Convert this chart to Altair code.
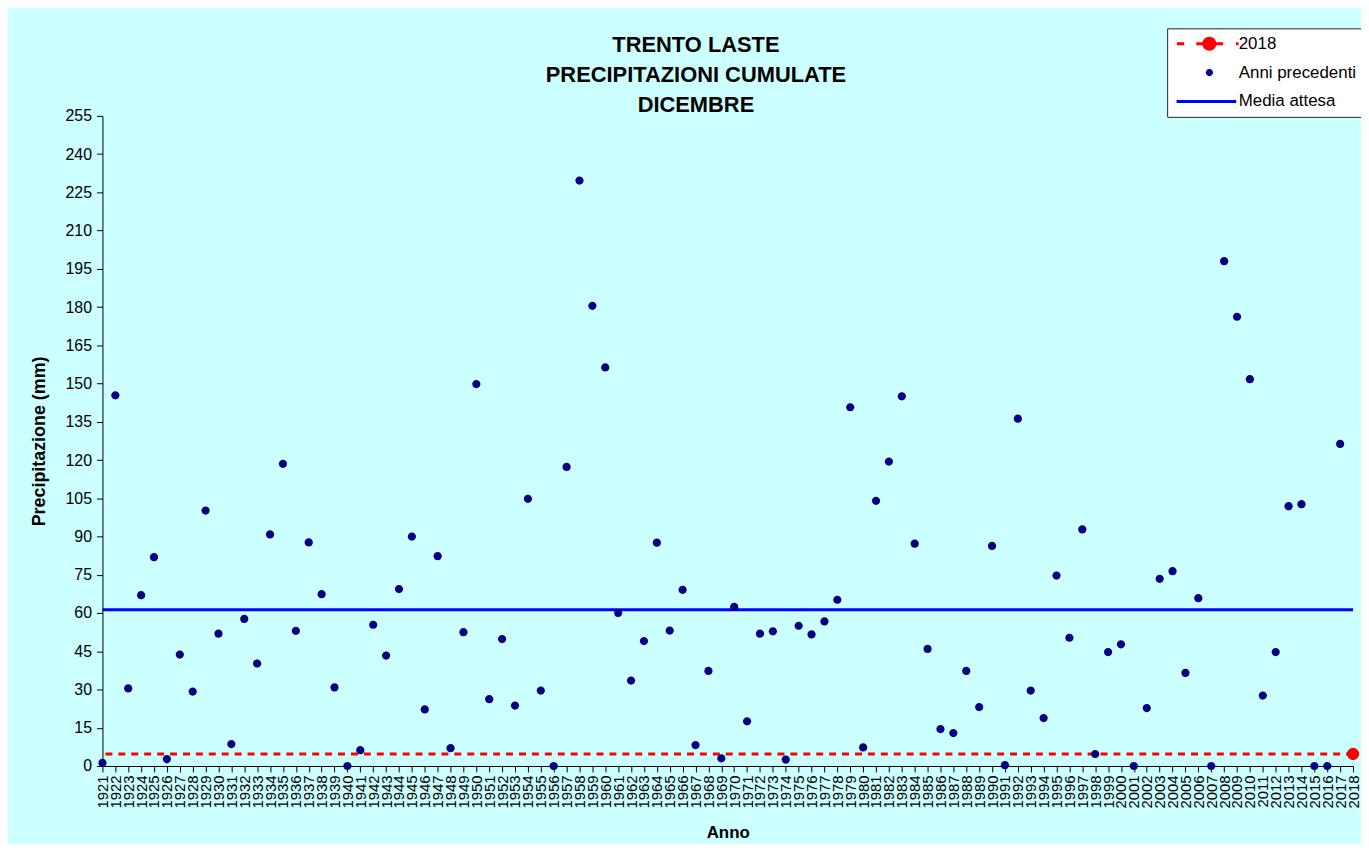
import altair as alt
import pandas as pd

# ---- data ----
years = list(range(1921, 2018))
precip = [
    1.2, 145.4, 30.4, 67.0, 81.9, 2.7, 43.7, 29.2, 100.2, 51.9,      # 1921-1930
    8.6, 57.7, 40.2, 90.8, 118.5, 53.0, 87.7, 67.4, 30.8, 0.0,        # 1931-1940
    6.2, 55.4, 43.3, 69.4, 90.0, 22.2, 82.3, 7.0, 52.5, 149.8,        # 1941-1950
    26.2, 49.8, 23.7, 104.8, 29.6, 0.0, 117.3, 229.6, 180.5, 156.3,   # 1951-1960
    60.0, 33.5, 49.0, 87.6, 53.1, 69.1, 8.2, 37.3, 3.0, 62.4,         # 1961-1970
    17.5, 51.9, 52.8, 2.5, 55.0, 51.6, 56.7, 65.2, 140.7, 7.3,        # 1971-1980
    104.0, 119.4, 145.0, 87.2, 45.9, 14.5, 12.9, 37.3, 23.1, 86.3,    # 1981-1990
    0.3, 136.2, 29.6, 18.8, 74.7, 50.3, 92.8, 4.7, 44.7, 47.7,        # 1991-2000
    0.0, 22.7, 73.4, 76.4, 36.5, 65.8, 0.0, 198.0, 176.2, 151.7,      # 2001-2010
    27.6, 44.7, 101.9, 102.7, 0.0, 0.0, 126.3,                        # 2011-2017
]
year_2018 = [2018]
precip_2018 = [4.7]
media_attesa = [61.3]

y_ticks = list(range(0, 256, 15))
x_ticks = list(range(1921, 2019))

series = ["2018", "Anni precedenti", "Media attesa"]
series_colors = ["#FF0000", "#000080", "#0000FF"]

title_lines = ["TRENTO LASTE", "PRECIPITAZIONI CUMULATE", "DICEMBRE"]

# legend symbols (unit-square paths)
sym_2018 = ("M-5.45,-0.25H-4.22V0.25H-5.45Z "
            "M-2.2,-0.25H2.3V0.25H-2.2Z "
            "M1.17,0A1.17,1.17,0,1,1,-1.17,0A1.17,1.17,0,1,1,1.17,0Z "
            "M4.45,-0.25H4.9V0.25H4.45Z")
sym_dot = "M0.6,0A0.6,0.6,0,1,1,-0.6,0A0.6,0.6,0,1,1,0.6,0Z"
sym_line = "M-5.5,-0.25H4.5V0.25H-5.5Z"
series_shapes = [sym_2018, sym_dot, sym_line]

FONT = "Liberation Sans"

df_prev = pd.DataFrame({"anno": years, "mm": precip, "serie": ["Anni precedenti"] * len(years)})
df_2018 = pd.DataFrame({"anno": year_2018, "mm": precip_2018})
df_media = pd.DataFrame({"media": media_attesa})

x_scale = alt.Scale(domain=[1921, 2018], nice=False, zero=False)
y_scale = alt.Scale(domain=[0, 255], nice=False)

x_axis = alt.Axis(
    title="Anno", values=x_ticks, format="d", labelAngle=270, labelFontSize=15,
    labelOverlap=False, labelFlush=False, tickSize=6, labelPadding=3,
    titleFontSize=17, titleFontWeight="bold", titlePadding=17, grid=False,
)
y_axis = alt.Axis(
    title="Precipitazione (mm)", values=y_ticks, labelFontSize=16, tickSize=6,
    labelPadding=5, titleFontSize=18, titleFontWeight="bold", titlePadding=17, grid=False,
)

legend = alt.Legend(
    title=None, orient="none", legendX=1071, legendY=-88, fillColor="white",
    strokeColor="#222222", padding=7, symbolSize=144, symbolStrokeWidth=0,
    labelFontSize=17, labelFont=FONT, labelColor="black",
    symbolOffset=27, labelOffset=21, rowPadding=11,
)

media_rule = alt.Chart(df_media).mark_rule(color="#0000FF", strokeWidth=3).encode(
    y=alt.Y("media:Q", scale=y_scale, axis=y_axis)
)

line_2018 = alt.Chart(df_2018).mark_rule(
    color="#FF0000", strokeWidth=3, strokeDash=[7, 6]
).encode(y=alt.Y("mm:Q", scale=y_scale, axis=y_axis))

points = alt.Chart(df_prev).mark_point(
    filled=True, size=190, opacity=1, strokeWidth=0
).encode(
    x=alt.X("anno:Q", scale=x_scale, axis=x_axis),
    y=alt.Y("mm:Q", scale=y_scale, axis=y_axis),
    color=alt.Color("serie:N", scale=alt.Scale(domain=series, range=series_colors), legend=legend),
    shape=alt.Shape("serie:N", scale=alt.Scale(domain=series, range=series_shapes), legend=legend),
)

dot_2018 = alt.Chart(df_2018).mark_circle(color="#FF0000", size=154, opacity=1).encode(
    x=alt.X("anno:Q", scale=x_scale, axis=x_axis),
    y=alt.Y("mm:Q", scale=y_scale, axis=y_axis),
)

chart = alt.layer(media_rule, line_2018, points, dot_2018).properties(
    width=1258,
    height=654,
    title=alt.Title(
        text=title_lines, fontSize=22, font=FONT, fontWeight="bold", color="black",
        lineHeight=30, anchor="middle", frame="group", baseline="bottom",
        dx=-32, dy=111.5, offset=0,
    ),
    autosize=alt.AutoSizeParams(type="none"),
    padding={"left": 95, "top": 106, "right": 8, "bottom": 76},
    background="#CCFFFF",
).configure(
    font=FONT,
).configure_view(
    stroke=None,
).configure_axis(
    labelFont=FONT, titleFont=FONT, labelColor="black", titleColor="black",
    domainColor="black", tickColor="black", domainWidth=1, tickWidth=1,
)

chart.save("out.html", embed_options={"renderer": "svg", "actions": False})
